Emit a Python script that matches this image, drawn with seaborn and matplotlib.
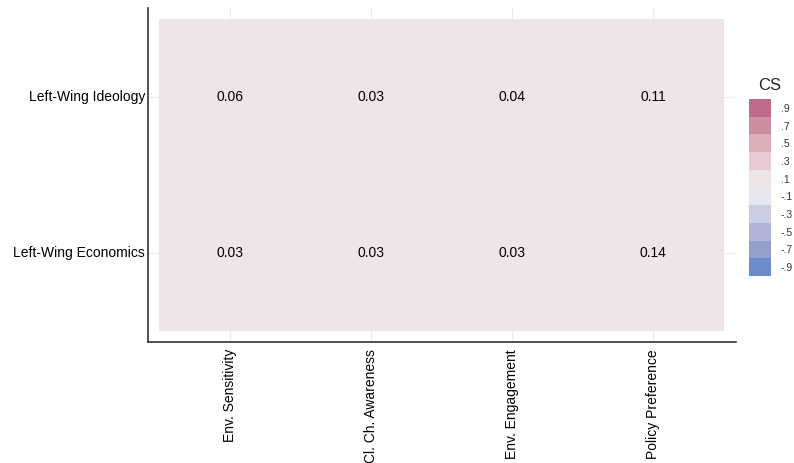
import numpy as np
import pandas as pd
import seaborn as sns
from matplotlib import pyplot as plt
from matplotlib.colors import ListedColormap, BoundaryNorm

sns.set_style("white")
plt.rcParams["font.family"] = ["Liberation Sans", "DejaVu Sans"]

rows = ["Left-Wing Ideology", "Left-Wing Economics"]
cols = ["Env. Sensitivity", "Cl. Ch. Awareness", "Env. Engagement", "Policy Preference"]
cs_ideology = [0.06, 0.03, 0.04, 0.11]
cs_economics = [0.03, 0.03, 0.03, 0.14]

bin_labels = [".9", ".7", ".5", ".3", ".1", "-.1", "-.3", "-.5", "-.7", "-.9"]
bin_values = [0.9, 0.7, 0.5, 0.3, 0.1, -0.1, -0.3, -0.5, -0.7, -0.9]
bin_colors = ["#BF6A8B", "#CC8D9F", "#DBAEB8", "#E8CBD2", "#EFE5E7",
              "#E6E7EE", "#CBCDE2", "#B0B5D9", "#949FCB", "#6A8CCB"]

df = pd.DataFrame([cs_ideology, cs_economics], index=rows, columns=cols)

cmap = ListedColormap(bin_colors[::-1])
norm = BoundaryNorm(np.linspace(-1, 1, 11), cmap.N)

fig = plt.figure(figsize=(7.94, 4.63), dpi=100)
ax = fig.add_axes([148 / 794, 1 - 342 / 463, 588 / 794, 334 / 463])

sns.heatmap(df, ax=ax, cmap=cmap, norm=norm, cbar=False, annot=True, fmt=".2f",
            annot_kws={"fontsize": 10, "color": "black"})

# gridlines behind the tiles
for x in np.arange(len(cols)) + 0.5:
    ax.axvline(x, color="#EBEBEB", lw=0.8, zorder=0)
for y in np.arange(len(rows)) + 0.5:
    ax.axhline(y, color="#EBEBEB", lw=0.8, zorder=0)
for coll in ax.collections:
    coll.set_zorder(1)

ax.set_xlim(-0.078, 4.085)
ax.set_ylim(2.07, -0.07)
ax.set_xlabel("")
ax.set_ylabel("")
ax.set_xticklabels(cols, rotation=90, fontsize=10, color="black")
ax.set_yticklabels(rows, rotation=0, fontsize=10, color="black")
ax.tick_params(axis="x", length=0, pad=5)
ax.tick_params(axis="y", length=0, pad=2)
for side in ["top", "right"]:
    ax.spines[side].set_visible(False)
for side in ["left", "bottom"]:
    ax.spines[side].set_visible(True)
    ax.spines[side].set_color("#333333")
    ax.spines[side].set_linewidth(1.2)

# legend as a stacked key
lax = fig.add_axes([749 / 794, 1 - 276 / 463, 22 / 794, 177 / 463])
key = pd.DataFrame({"CS": bin_values}, index=bin_labels)
sns.heatmap(key, ax=lax, cmap=cmap, norm=norm, cbar=False, xticklabels=False)
lax.yaxis.tick_right()
lax.set_yticklabels(bin_labels, rotation=0, fontsize=7.5, color="#333333")
lax.tick_params(axis="y", length=0, pad=7)
lax.set_ylabel("")
lax.set_xlabel("")
fig.text(770 / 794, 1 - 86 / 463, "CS", fontsize=12, ha="center", va="center")

fig.savefig("out.png", dpi=100)
